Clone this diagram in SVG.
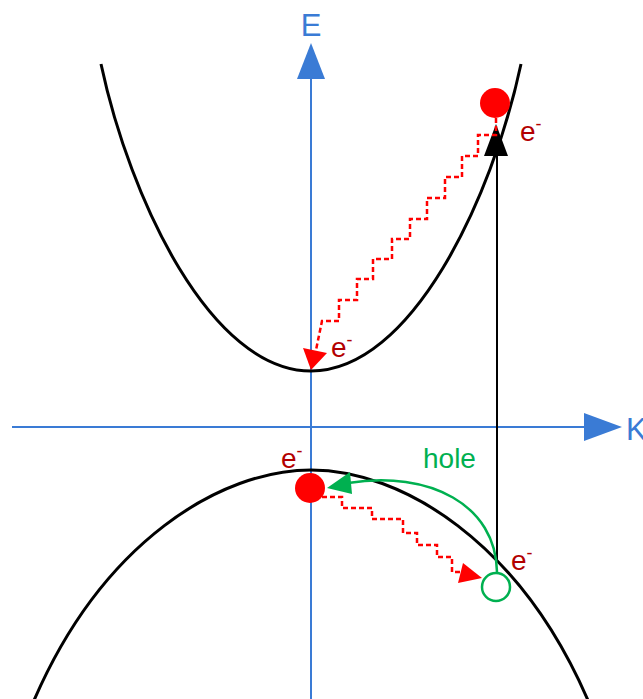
<svg xmlns="http://www.w3.org/2000/svg" width="643" height="699" viewBox="0 0 643 699">
<style>
.axis{stroke:#3a7bd5;stroke-width:2;fill:none}
.axhead{fill:#3a7bd5}
.band{stroke:#000;stroke-width:3;fill:none}
.step{stroke:#ff0000;stroke-width:2.5;fill:none;stroke-dasharray:5 3}
.lbl{font-family:"Liberation Sans",Arial,sans-serif;font-size:28px}
.ax{fill:#3a7bd5;font-size:31px}
.el{fill:#b30000}
.sup{font-size:18px}
</style>
<rect width="643" height="699" fill="#fff"/>
<g id="axes">
<line class="axis" x1="311" y1="699" x2="311" y2="76"/>
<polygon class="axhead" points="311,43 325,79 297,79"/>
<line class="axis" x1="12" y1="427" x2="588" y2="427"/>
<polygon class="axhead" points="622,427 584,413 584,441"/>
<text class="lbl ax" x="311" y="36" text-anchor="middle">E</text>
<text class="lbl ax" x="626" y="440">K</text>
</g>
<g id="conduction-band">
<path class="band" d="M101,64 C130,200 211,371 311,371 C411,371 492,200 521,64"/>
</g>
<g id="valence-band">
<path class="band" d="M32,705 C102,540 222,470 311,470 C400,470 520,540 590,705"/>
</g>
<g id="connectors">
<line x1="497" y1="562" x2="497" y2="150" stroke="#000" stroke-width="2"/>
<polygon points="496,124 508,156 484,156" fill="#000"/>
<path class="step" d="M496,118 V135 H478 V156 H462 V177 H445 V198 H427 V219 H410 V239 H392 V259 H373 V279 H357 V300 H339 V321 H322 L316,350"/>
<polygon points="311,370 303,348 327,353" fill="#ff0000"/>
<path class="step" d="M322,497 H342 V508 H372 V519 H403 V533 H417 V545 H437 V557 H452 V572 H463"/>
<polygon points="482,578 463,563 458,583" fill="#ff0000"/>
<path d="M497,572 C496,505 430,470 348,483" fill="none" stroke="#00b050" stroke-width="2.5"/>
<polygon points="327,488 350,472 352,494" fill="#00b050"/>
</g>
<g id="electron-top">
<circle cx="495" cy="103" r="15" fill="#ff0000"/>
<text class="lbl el" x="520" y="141">e<tspan class="sup" dy="-11">-</tspan></text>
</g>
<g id="electron-bottom-cb">
<text class="lbl el" x="331" y="357">e<tspan class="sup" dy="-11">-</tspan></text>
</g>
<g id="electron-vb">
<circle cx="310" cy="488" r="15" fill="#ff0000"/>
<text class="lbl el" x="281" y="468">e<tspan class="sup" dy="-11">-</tspan></text>
</g>
<g id="hole">
<circle cx="496" cy="587" r="14" fill="#fff" stroke="#00b050" stroke-width="2.5"/>
<text class="lbl el" x="511" y="570">e<tspan class="sup" dy="-11">-</tspan></text>
<text class="lbl" x="423" y="468" fill="#00b050" font-size="30">hole</text>
</g>
</svg>
